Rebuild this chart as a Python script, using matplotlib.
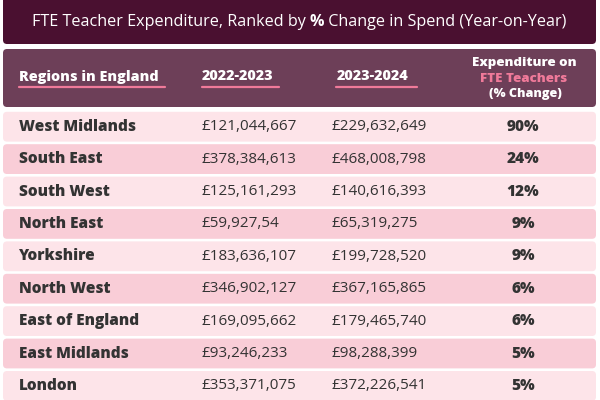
import matplotlib
matplotlib.use("Agg")
import matplotlib.pyplot as plt
from matplotlib.patches import FancyBboxPatch

title_parts = ["FTE Teacher Expenditure, Ranked by ", "%", " Change in Spend (Year-on-Year)"]
col_headers = ["Regions in England", "2022-2023", "2023-2024"]
last_header = ["Expenditure on", "FTE Teachers", "(% Change)"]
regions = ["West Midlands", "South East", "South West", "North East", "Yorkshire",
           "North West", "East of England", "East Midlands", "London"]
spend_2022 = ["£121,044,667", "£378,384,613", "£125,161,293", "£59,927,54", "£183,636,107",
              "£346,902,127", "£169,095,662", "£93,246,233", "£353,371,075"]
spend_2023 = ["£229,632,649", "£468,008,798", "£140,616,393", "£65,319,275", "£199,728,520",
              "£367,165,865", "£179,465,740", "£98,288,399", "£372,226,541"]
pct_change = [90, 24, 12, 9, 9, 6, 6, 5, 5]

FONT = ["Open Sans", "DejaVu Sans"]
DARK = "#4a1030"
HEAD = "#6d3f58"
PINK = "#f07a9a"
ROW_A = "#fde4e9"
ROW_B = "#f9cdd7"
TXT = "#333333"

fig = plt.figure(figsize=(6, 4), dpi=100)
ax = fig.add_axes([0, 0, 1, 1])
ax.set_xlim(0, 600)
ax.set_ylim(400, 0)
ax.axis("off")


def box(x0, y0, x1, y1, color, r=4):
    p = FancyBboxPatch((x0, y0), x1 - x0, y1 - y0,
                       boxstyle=f"round,pad=0,rounding_size={r}",
                       facecolor=color, edgecolor="none")
    ax.add_patch(p)


# title box
box(3, -6, 596, 44, DARK)
weights = ["normal", "bold", "normal"]
fig.canvas.draw()
renderer = fig.canvas.get_renderer()
tmp, widths = [], []
for s, w in zip(title_parts, weights):
    t = ax.text(0, 21.5, s, fontsize=11.6, family=FONT, fontweight=w, color="white",
                va="center")
    bb = t.get_window_extent(renderer=renderer)
    widths.append(bb.width)
    tmp.append(t)
x = 299 - sum(widths) / 2
for t, wd in zip(tmp, widths):
    t.set_x(x)
    x += wd

# header box
box(3, 49, 596, 107, HEAD)
hdr_x = [19, 202, 337]
ul = [(19, 165), (202, 279), (336, 417)]
for h, xx, (u0, u1) in zip(col_headers, hdr_x, ul):
    ax.text(xx, 76.5, h, fontsize=10.4, family=FONT, fontweight="heavy", color="white",
            va="center", ha="left")
    ax.plot([u0, u1], [86.5, 86.5], color=PINK, lw=1.6, solid_capstyle="round")
ax.text(524, 63, last_header[0], fontsize=9.6, family=FONT, fontweight="heavy",
        color="white", ha="center", va="center")
ax.text(524, 78.5, last_header[1], fontsize=9.6, family=FONT, fontweight="heavy",
        color=PINK, ha="center", va="center")
ax.text(525, 93.5, last_header[2], fontsize=9.1, family=FONT, fontweight="heavy",
        color="white", ha="center", va="center")

# rows
top = 111.8
pitch = 32.4
for i, (r, a, b, p) in enumerate(zip(regions, spend_2022, spend_2023, pct_change)):
    y0 = top + i * pitch
    y1 = y0 + 29.8
    box(3, y0, 596, y1, ROW_A if i % 2 == 0 else ROW_B)
    yc = (y0 + y1) / 2
    ax.text(19, yc, r, fontsize=11.1, family=FONT, fontweight="heavy", color=TXT,
            ha="left", va="center")
    ax.text(202, yc, a, fontsize=11.0, family=FONT, color=TXT, ha="left", va="center")
    ax.text(332, yc, b, fontsize=11.0, family=FONT, color=TXT, ha="left", va="center")
    ax.text(523, yc, f"{p}%", fontsize=11.1, family=FONT, fontweight="heavy", color=TXT,
            ha="center", va="center")

fig.savefig("out.png", dpi=100, facecolor="white")
